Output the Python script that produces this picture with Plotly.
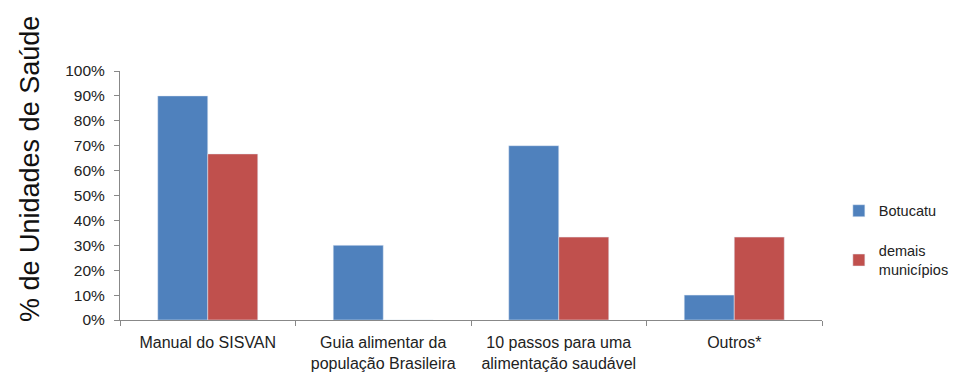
import plotly.graph_objects as go

categories = ["Manual do SISVAN", "Guia alimentar da<br>população Brasileira",
              "10 passos para uma<br>alimentação saudável", "Outros*"]
botucatu = [90, 30, 70, 10]
demais = [66.7, 0, 33.3, 33.3]
y_ticks = list(range(0, 101, 10))
y_tick_labels = [f"{v}%" for v in y_ticks]

font = "Liberation Sans, Arial"

fig = go.Figure()
fig.add_trace(go.Bar(x=categories, y=botucatu, name="Botucatu", marker_color="#4F81BD",
                     legendgroup="a"))
fig.add_trace(go.Bar(x=categories, y=demais, name="demais<br>municípios", marker_color="#C0504D",
                     legendgroup="b"))

fig.update_layout(
    width=961, height=376,
    margin=dict(l=120, r=139, t=71, b=56, autoexpand=False),
    paper_bgcolor="white", plot_bgcolor="white",
    barmode="group", bargap=0.43, bargroupgap=0,
    font=dict(family=font, size=14, color="#222"),
    legend=dict(x=1.024, y=0.32, xanchor="left", yanchor="middle",
                font=dict(size=14.5), tracegroupgap=18, itemwidth=30),
    showlegend=True,
    annotations=[dict(text="% de Unidades de Saúde", textangle=-90,
                      xref="paper", yref="paper", x=(30 - 120) / 702, y=(320 - 169) / 249,
                      xanchor="center", yanchor="middle", showarrow=False,
                      font=dict(family="Liberation Sans, Arial", size=27, color="#111"))],
)
fig.update_xaxes(showline=True, linecolor="#888", linewidth=1, ticks="outside",
                 tickson="boundaries", ticklen=5, tickcolor="#888",
                 tickfont=dict(size=16), showgrid=False, automargin=False,
                 ticklabelstandoff=8)
fig.update_yaxes(range=[0, 100], tickvals=y_ticks, ticktext=y_tick_labels, showline=True,
                 linecolor="#888", linewidth=1, ticks="outside", ticklen=5,
                 tickcolor="#888", showgrid=False, zeroline=False,
                 tickfont=dict(size=15.5), automargin=False, ticklabelstandoff=6)

fig.write_html("out.html")
